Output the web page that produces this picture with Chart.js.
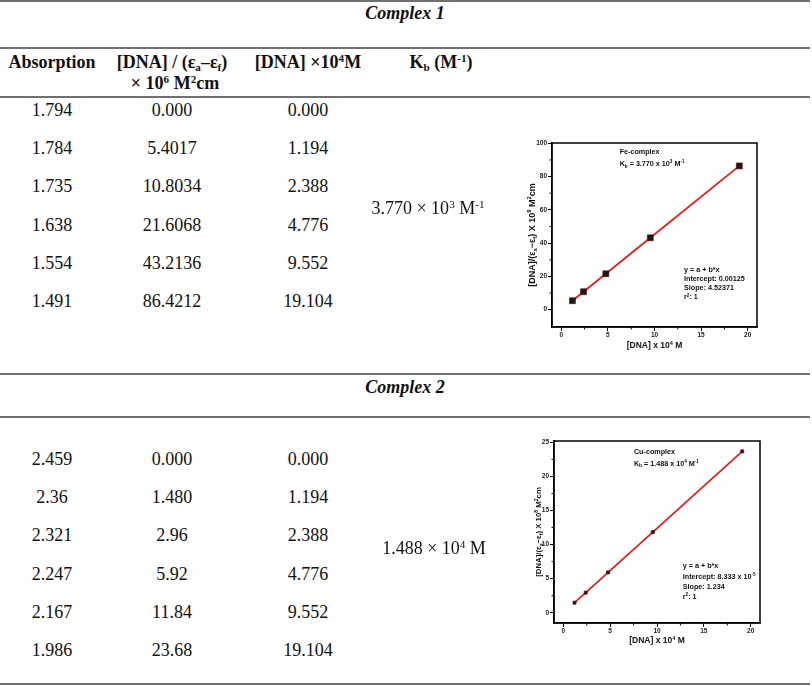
<!DOCTYPE html>
<html>
<head>
<meta charset="utf-8">
<script src="https://cdn.jsdelivr.net/npm/chart.js@4"></script>
<style>
  html, body { margin: 0; padding: 0; background: #fff; }
  #page { position: relative; width: 812px; height: 686px; overflow: hidden; font-family: "Liberation Serif", "Times New Roman", serif; color: #111; }
  .rule { position: absolute; left: 0; width: 810px; height: 2px; background: #707070; }
  .cell { position: absolute; width: 240px; text-align: center; font-size: 18px; line-height: 20px; white-space: nowrap; }
  .hd { font-weight: bold; }
  .grp { font-weight: bold; font-style: italic; }
  sup, sub { font-size: 0.62em; line-height: 0; position: relative; vertical-align: baseline; }
  sup { top: -0.5em; }
  sub { top: 0.25em; }
  canvas { position: absolute; }
</style>
</head>
<body>
<div id="page">
  <canvas id="feChart"></canvas>
  <canvas id="cuChart"></canvas>
</div>
<script>
// table values, complex 1 (Fe)
const absorption1 = ['1.794', '1.784', '1.735', '1.638', '1.554', '1.491'];
const ratio1 = ['0.000', '5.4017', '10.8034', '21.6068', '43.2136', '86.4212'];
const dna1 = ['0.000', '1.194', '2.388', '4.776', '9.552', '19.104'];
// table values, complex 2 (Cu)
const absorption2 = ['2.459', '2.36', '2.321', '2.247', '2.167', '1.986'];
const ratio2 = ['0.000', '1.480', '2.96', '5.92', '11.84', '23.68'];
const dna2 = ['0.000', '1.194', '2.388', '4.776', '9.552', '19.104'];

// axis ticks of the two plots
const xTicks = [0, 5, 10, 15, 20];
const feYTicks = [0, 20, 40, 60, 80, 100];
const cuYTicks = [0, 5, 10, 15, 20, 25];

const page = document.getElementById('page');

function addEl(cls, html, cx, cy) {
  const d = document.createElement('div');
  d.className = cls;
  d.innerHTML = html;
  d.style.left = (cx - 120) + 'px';
  d.style.top = (cy - 10) + 'px';
  page.appendChild(d);
}

function addRule(y) {
  const d = document.createElement('div');
  d.className = 'rule';
  d.style.top = y + 'px';
  page.appendChild(d);
}

[0, 47, 96, 373, 416, 683].forEach(addRule);

const colX = [52, 172, 308, 441];
const rowStep = 38.2;

addEl('cell grp', 'Complex 1', 405, 13);
addEl('cell hd', 'Absorption', colX[0], 62);
addEl('cell hd', '[DNA] / (ε<sub>a</sub>–ε<sub>f</sub>)', colX[1], 62);
addEl('cell hd', '× 10<sup>6</sup> M<sup>2</sup>cm', 175, 83);
addEl('cell hd', '[DNA] ×10<sup>4</sup>M', colX[2], 62);
addEl('cell hd', 'K<sub>b</sub> (M<sup>-1</sup>)', colX[3], 62);

absorption1.forEach((v, i) => {
  const y = 110 + i * rowStep;
  addEl('cell', v, colX[0], y);
  addEl('cell', ratio1[i], colX[1], y);
  addEl('cell', dna1[i], colX[2], y);
});
addEl('cell', '3.770 × 10<sup>3</sup> M<sup>-1</sup>', 428, 208);

addEl('cell grp', 'Complex 2', 405, 387);
absorption2.forEach((v, i) => {
  const y = 459 + i * rowStep;
  addEl('cell', v, colX[0], y);
  addEl('cell', ratio2[i], colX[1], y);
  addEl('cell', dna2[i], colX[2], y);
});
addEl('cell', '1.488 × 10<sup>4</sup> M', 434, 548);

// rich text: segments of [text, mode], mode 1 = superscript, -1 = subscript
function richWidth(ctx, segs, size, weight) {
  let w = 0;
  segs.forEach(([t, m]) => {
    ctx.font = weight + ' ' + (m ? size * 0.65 : size) + 'px "Liberation Sans", Arial, sans-serif';
    w += ctx.measureText(t).width;
  });
  return w;
}
function drawRich(ctx, x, y, segs, size, weight, align) {
  const w = richWidth(ctx, segs, size, weight);
  let cx = align === 'center' ? x - w / 2 : x;
  ctx.textBaseline = 'alphabetic';
  ctx.textAlign = 'left';
  ctx.fillStyle = '#111';
  segs.forEach(([t, m]) => {
    const s = m ? size * 0.65 : size;
    ctx.font = weight + ' ' + s + 'px "Liberation Sans", Arial, sans-serif';
    const dy = m === 1 ? -size * 0.4 : m === -1 ? size * 0.25 : 0;
    ctx.fillText(t, cx, y + dy);
    cx += ctx.measureText(t).width;
  });
}

function tickSet(values) {
  return (scale) => { scale.ticks = values.map((v) => ({ value: v })); };
}

const framePlugin = {
  id: 'frame',
  afterDraw(chart, args, opts) {
    const { ctx, chartArea: a, scales } = chart;
    ctx.save();
    ctx.strokeStyle = '#000';
    ctx.lineWidth = 1.5;
    ctx.strokeRect(a.left, a.top, a.right - a.left, a.bottom - a.top);
    // minor ticks halfway between the major ones
    ctx.lineWidth = 1;
    ctx.beginPath();
    [opts.xMajor, opts.yMajor].forEach((maj, k) => {
      for (let i = 0; i < maj.length - 1; i++) {
        const v = (maj[i] + maj[i + 1]) / 2;
        if (k === 0) {
          const px = scales.x.getPixelForValue(v);
          ctx.moveTo(px, a.bottom);
          ctx.lineTo(px, a.bottom + 2.5);
        } else {
          const py = scales.y.getPixelForValue(v);
          ctx.moveTo(a.left, py);
          ctx.lineTo(a.left - 2.5, py);
        }
      }
    });
    ctx.stroke();
    // axis titles
    drawRich(ctx, (a.left + a.right) / 2, a.bottom + opts.xTitleOff, opts.xTitle, 8.5, 'bold', 'center');
    ctx.translate(a.left - opts.yTitleOff, (a.top + a.bottom) / 2);
    ctx.rotate(-Math.PI / 2);
    drawRich(ctx, 0, 0, opts.yTitle, opts.yTitleSize, 'bold', 'center');
    ctx.setTransform(1, 0, 0, 1, 0, 0);
    // notes inside the plot
    opts.notes.forEach((n) => {
      drawRich(ctx, a.left + n.fx * (a.right - a.left), a.top + n.fy * (a.bottom - a.top), n.segs, 7.2, 'bold', 'left');
    });
    ctx.restore();
  },
};

function makeChart(id, pos, xs, ys, yRange, yTicks, pointR, opts) {
  const cv = document.getElementById(id);
  cv.width = pos.w;
  cv.height = pos.h;
  cv.style.left = pos.x + 'px';
  cv.style.top = pos.y + 'px';
  const points = xs.slice(1).map((v, i) => ({ x: parseFloat(v), y: parseFloat(ys[i + 1]) }));
  const tickFont = { family: '"Liberation Sans", Arial, sans-serif', size: 6.5, weight: 'bold' };
  new Chart(cv, {
    type: 'scatter',
    plugins: [framePlugin],
    data: {
      datasets: [{
        data: points,
        showLine: true,
        borderColor: '#e3201b',
        borderWidth: 1.8,
        pointStyle: 'rect',
        pointRadius: pointR,
        pointBackgroundColor: '#1a1a1a',
        pointBorderColor: '#5a0000',
        pointBorderWidth: 0.6,
      }],
    },
    options: {
      responsive: false,
      animation: false,
      layout: { padding: { top: pos.pt, right: pos.pr, left: 0, bottom: 0 } },
      plugins: { legend: { display: false }, tooltip: { enabled: false }, frame: opts },
      scales: {
        x: {
          type: 'linear', min: -1, max: 21,
          afterBuildTicks: tickSet(xTicks),
          afterFit: (s) => { s.height = pos.xh; },
          grid: { drawOnChartArea: false, drawTicks: true, tickLength: 4, color: '#000', lineWidth: 1 },
          border: { display: true, color: '#000', width: 1.5 },
          ticks: { color: '#222', font: tickFont, padding: 0, maxRotation: 0 },
        },
        y: {
          type: 'linear', min: yRange[0], max: yRange[1],
          afterBuildTicks: tickSet(yTicks),
          afterFit: (s) => { s.width = pos.yw; },
          grid: { drawOnChartArea: false, drawTicks: true, tickLength: 4, color: '#000', lineWidth: 1 },
          border: { display: true, color: '#000', width: 1.5 },
          ticks: { color: '#222', font: tickFont, padding: 1 },
        },
      },
    },
  });
}

makeChart('feChart', { x: 505, y: 137, w: 290, h: 218, pt: 6, pr: 38, yw: 47, xh: 28 },
  dna1, ratio1, [-10.4, 100.2], feYTicks, 4.2, {
    xMajor: xTicks, yMajor: feYTicks,
    xTitle: [['[DNA] x 10', 0], ['4', 1], [' M', 0]], xTitleOff: 21,
    yTitle: [['[DNA]/(ε', 0], ['a', -1], ['−ε', 0], ['f', -1], [') X 10', 0], ['9', 1], [' M', 0], ['2', 1], ['cm', 0]],
    yTitleOff: 17, yTitleSize: 9,
    notes: [
      { fx: 0.33, fy: 0.06, segs: [['Fe-complex', 0]] },
      { fx: 0.33, fy: 0.125, segs: [['K', 0], ['b', -1], [' = 3.770 x 10', 0], ['3', 1], [' M', 0], ['-1', 1]] },
      { fx: 0.644, fy: 0.7, segs: [['y = a + b*x', 0]] },
      { fx: 0.644, fy: 0.75, segs: [['Intercept: 0.00125', 0]] },
      { fx: 0.644, fy: 0.8, segs: [['Slope: 4.52371', 0]] },
      { fx: 0.644, fy: 0.85, segs: [['r', 0], ['2', 1], [': 1', 0]] },
    ],
  });

makeChart('cuChart', { x: 507, y: 435, w: 290, h: 218, pt: 6, pr: 37, yw: 47, xh: 30 },
  dna2, ratio2, [-1.5, 25.2], cuYTicks, 2.2, {
    xMajor: xTicks, yMajor: cuYTicks,
    xTitle: [['[DNA] x 10', 0], ['4', 1], [' M', 0]], xTitleOff: 20,
    yTitle: [['[DNA]/(ε', 0], ['a', -1], ['−ε', 0], ['f', -1], [') X 10', 0], ['8', 1], [' M', 0], ['2', 1], ['cm', 0]],
    yTitleOff: 13, yTitleSize: 7.8,
    notes: [
      { fx: 0.388, fy: 0.07, segs: [['Cu-complex', 0]] },
      { fx: 0.388, fy: 0.135, segs: [['K', 0], ['b', -1], [' = 1.488 x 10', 0], ['4', 1], [' M', 0], ['-1', 1]] },
      { fx: 0.625, fy: 0.7, segs: [['y = a + b*x', 0]] },
      { fx: 0.625, fy: 0.76, segs: [['Intercept: 8.333 x 10', 0], ['-5', 1]] },
      { fx: 0.625, fy: 0.815, segs: [['Slope: 1.234', 0]] },
      { fx: 0.625, fy: 0.87, segs: [['r', 0], ['2', 1], [': 1', 0]] },
    ],
  });
</script>
</body>
</html>
